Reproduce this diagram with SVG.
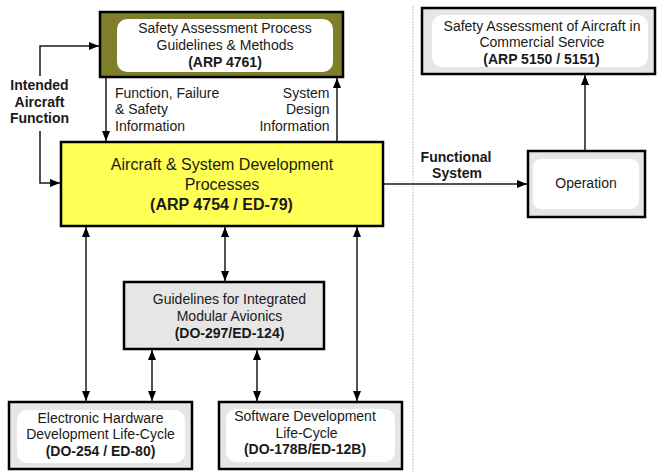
<svg xmlns="http://www.w3.org/2000/svg" width="657" height="472" viewBox="0 0 657 472">
<style>
text{font-family:"Liberation Sans",Arial,sans-serif;font-size:14px;fill:#1a1a1a}
.c{text-anchor:middle}
.r{text-anchor:end}
.b{font-weight:bold}
.big{font-size:16px}
.box{stroke:#000;stroke-width:2.5}
.inner{fill:#ffffff;stroke:none}
.gray{fill:#e6e6e6}
.con{fill:none;stroke:#1a1a1a;stroke-width:1.5}
.arr{marker-end:url(#ah)}
.dbl{marker-start:url(#ah);marker-end:url(#ah)}
</style>
<defs>
<marker id="ah" markerUnits="userSpaceOnUse" markerWidth="11" markerHeight="9" refX="10" refY="4" orient="auto-start-reverse" viewBox="0 0 11 9">
<path d="M0,0 L10,4 L0,8 z" fill="#000"/>
</marker>
</defs>
<rect x="0" y="0" width="657" height="472" fill="#ffffff"/>
<line x1="413" y1="6" x2="413" y2="472" stroke="#bbbbbb" stroke-width="1.2" stroke-dasharray="1.5,1.5"/>

<g id="connectors">
<path class="con arr" d="M40,76 V46 H99"/>
<path class="con arr" d="M40,131 V183 H60"/>
<path class="con arr" d="M106,78 V141"/>
<path class="con arr" d="M337,142 V78"/>
<path class="con arr" d="M384,184 H527"/>
<path class="con arr" d="M585,150 V75"/>
<path class="con dbl" d="M86,227 V401"/>
<path class="con dbl" d="M225,227 V281"/>
<path class="con dbl" d="M357,227 V401"/>
<path class="con dbl" d="M152,350 V401"/>
<path class="con dbl" d="M257,350 V401"/>
</g>

<g id="label-intended">
<text class="c b" x="39.5" y="90">Intended</text>
<text class="c b" x="39.5" y="106.7">Aircraft</text>
<text class="c b" x="39.5" y="123.3">Function</text>
</g>
<g id="label-ffs">
<text x="115" y="97.7">Function, Failure</text>
<text x="115" y="114.3">&amp; Safety</text>
<text x="115" y="131">Information</text>
</g>
<g id="label-sdi">
<text class="r" x="329.5" y="97.7">System</text>
<text class="r" x="329.5" y="114.3">Design</text>
<text class="r" x="329.5" y="131">Information</text>
</g>
<g id="label-functional">
<text class="c b" x="456" y="161.7">Functional</text>
<text class="c b" x="457" y="178.3">System</text>
</g>

<g id="node-arp4761">
<rect class="box" x="100" y="12" width="243" height="65" fill="#7f7f2b"/>
<rect class="inner" x="117" y="19" width="216" height="53" rx="10"/>
<text class="c" x="225" y="32.5">Safety Assessment Process</text>
<text class="c" x="225" y="49.5">Guidelines &amp; Methods</text>
<text class="c b" x="225" y="66.5">(ARP 4761)</text>
</g>

<g id="node-arp4754">
<rect class="box" x="61" y="142" width="322" height="84" fill="#ffff55"/>
<text class="c big" x="222" y="169.8">Aircraft &amp; System Development</text>
<text class="c big" x="222" y="189.8">Processes</text>
<text class="c big b" x="221.5" y="209.8">(ARP 4754 / ED-79)</text>
</g>

<g id="node-arp5150">
<rect class="box gray" x="422" y="8" width="233" height="66"/>
<rect class="inner" x="432" y="15" width="216" height="52" rx="10"/>
<text class="c" x="542" y="30.7">Safety Assessment of Aircraft in</text>
<text class="c" x="542" y="47.3">Commercial Service</text>
<text class="c b" x="541.5" y="64">(ARP 5150 / 5151)</text>
</g>

<g id="node-operation">
<rect class="box gray" x="528" y="151" width="117" height="66"/>
<rect class="inner" x="533" y="159" width="106" height="50" rx="8"/>
<text class="c" x="586" y="188.3">Operation</text>
</g>

<g id="node-ima">
<rect class="box gray" x="124" y="282" width="200" height="67"/>
<text class="c" x="229.5" y="304.3">Guidelines for Integrated</text>
<text class="c" x="229.5" y="321">Modular Avionics</text>
<text class="c b" x="229.5" y="337.7">(DO-297/ED-124)</text>
</g>

<g id="node-hw">
<rect class="box gray" x="9" y="402" width="183" height="67"/>
<rect class="inner" x="17" y="410" width="168" height="53" rx="10"/>
<text class="c" x="100.5" y="423.3">Electronic Hardware</text>
<text class="c" x="100.5" y="439.3">Development Life-Cycle</text>
<text class="c b" x="100.5" y="456">(DO-254 / ED-80)</text>
</g>

<g id="node-sw">
<rect class="box gray" x="219" y="402" width="183" height="67"/>
<rect class="inner" x="226" y="409" width="169" height="53" rx="10"/>
<text class="c" x="305" y="421">Software Development</text>
<text class="c" x="306.5" y="437.7">Life-Cycle</text>
<text class="c b" x="305" y="454.3">(DO-178B/ED-12B)</text>
</g>
</svg>
